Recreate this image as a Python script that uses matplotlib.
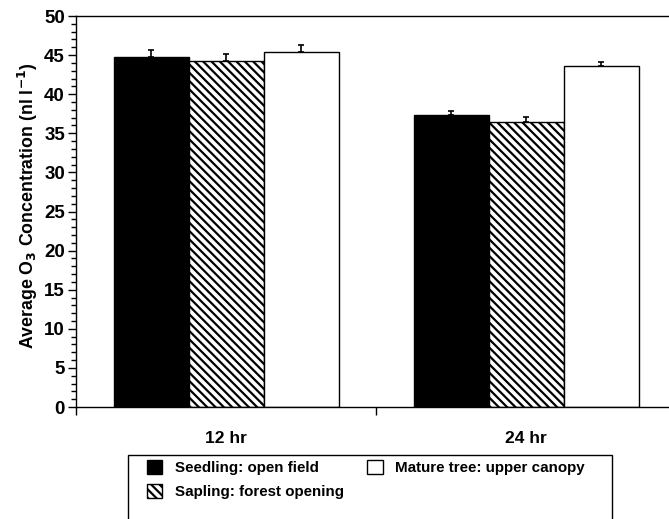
import matplotlib
matplotlib.use("Agg")
import matplotlib.pyplot as plt
from matplotlib.patches import Rectangle
import numpy as np

plt.rcParams['font.family'] = ['Liberation Sans', 'DejaVu Sans']
plt.rcParams['font.weight'] = 'bold'
plt.rcParams['hatch.linewidth'] = 1.6

groups = ["12 hr", "24 hr"]
series = ["Seedling: open field", "Sapling: forest opening", "Mature tree: upper canopy"]
values = {
    "Seedling: open field": [44.8, 37.3],
    "Sapling: forest opening": [44.3, 36.4],
    "Mature tree: upper canopy": [45.4, 43.6],
}
errors = {
    "Seedling: open field": [0.8, 0.5],
    "Sapling: forest opening": [0.8, 0.7],
    "Mature tree: upper canopy": [0.85, 0.5],
}
styles = {
    "Seedling: open field": dict(color="black", hatch=None),
    "Sapling: forest opening": dict(color="white", hatch="\\\\\\\\"),
    "Mature tree: upper canopy": dict(color="white", hatch=None),
}

fig = plt.figure(figsize=(6.69, 5.19), dpi=100)
ax = fig.add_axes([76/669, 1-407/519, 600/669, 391/519])

x = np.arange(len(groups))
w = 0.25
handles = []
for i, s in enumerate(series):
    pos = x + (i - 1) * w
    v = values[s]
    e = errors[s]
    b = ax.bar(pos, v, width=w, facecolor=styles[s]["color"], edgecolor="black",
               linewidth=1.0, hatch=styles[s]["hatch"], label=s, zorder=2)
    ax.errorbar(pos, v, yerr=[np.zeros(len(e)), e], fmt="none", ecolor="black",
                elinewidth=1.2, capsize=2.3, capthick=1.2, zorder=3)
    handles.append(b)

ax.set_xlim(-0.5, 1.5)
ax.set_ylim(0, 50)
ax.spines['right'].set_visible(False)
for sp in ['left', 'bottom', 'top']:
    ax.spines[sp].set_linewidth(1.0)

ax.set_yticks(np.arange(0, 51, 5))
ax.set_yticks(np.arange(0, 51, 1), minor=True)
ax.tick_params(axis='y', which='major', length=6, width=1.0, labelsize=13.5, pad=2)
ax.tick_params(axis='y', which='minor', length=3.5, width=1.0)

ax.set_xticks([-0.5, 0.5, 1.5])
ax.set_xticklabels([])
ax.set_xticks(x, minor=True)
ax.set_xticklabels(groups, minor=True, fontsize=12.5, fontweight='bold')
ax.tick_params(axis='x', which='major', length=6, width=1.0)
ax.tick_params(axis='x', which='minor', length=0, pad=17)

ax.set_ylabel("Average O$_3$ Concentration (nl l$^{-1}$)", fontsize=12.8,
              fontweight='bold', labelpad=3, y=0.515)

# legend frame (extends below figure edge as in the reference)
fig.patches.append(Rectangle((128/669, -0.02), 484/669, (1-455/519) + 0.02,
                             transform=fig.transFigure, facecolor='white',
                             edgecolor='black', linewidth=1.0, zorder=1))

leg = fig.legend(handles=handles, labels=series, ncol=2, loc='upper left',
                 bbox_to_anchor=(147/669, 1-460/519),
                 frameon=False, fontsize=10.9,
                 handlelength=1.0, handleheight=1.0, handletextpad=0.85,
                 borderpad=0, labelspacing=0.6, borderaxespad=0,
                 columnspacing=1.55)
for t in leg.get_texts():
    t.set_fontweight('bold')
leg.set_zorder(5)

fig.savefig("out.png", dpi=100)
